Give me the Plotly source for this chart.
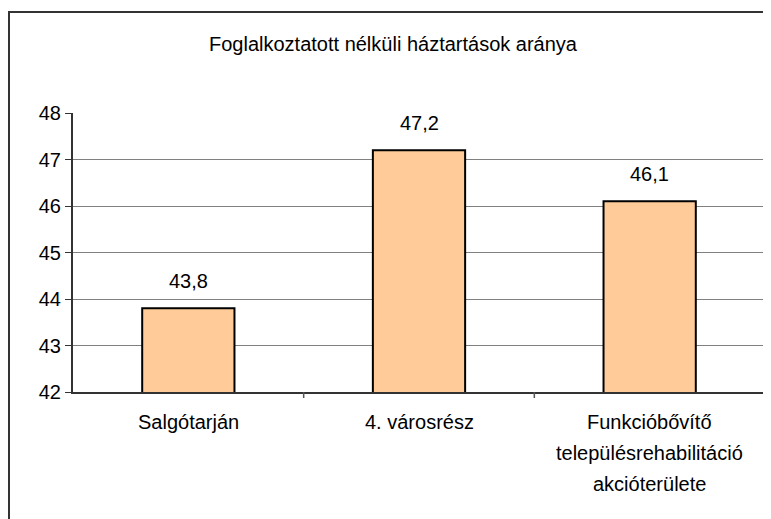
import plotly.graph_objects as go

categories = ["Salgótarján", "4. városrész", "Funkcióbővítő"]
category_lines = [
	["Salgótarján"],
	["4. városrész"],
	["Funkcióbővítő", "településrehabilitáció", "akcióterülete"],
]
values = [43.8, 47.2, 46.1]
y_ticks = [42, 43, 44, 45, 46, 47, 48]

title_text = "Foglalkoztatott nélküli háztartások aránya"
unit_text = "(%)"

font = "Liberation Sans, Arial, sans-serif"
fsize = 20

# page body has an 8px margin, so the figure is drawn 8px in from the corner
OFF = 8
W, H = 771 - OFF, 519 - OFF
# plot area in window pixels
L, R, T, B = 73, 765, 113, 392


def px_x(px):
	return (px - L) / (R - L)


def px_y(py):
	return (B - py) / (B - T)


def main():
	fig = go.Figure()
	fig.add_trace(
		go.Bar(
			x=categories,
			y=values,
			marker=dict(color="#FFCC99", line=dict(color="#000000", width=2)),
			width=0.4,
			hoverinfo="skip",
		)
	)

	annotations = []
	# value labels above bars
	for cat, v in zip(categories, values):
		annotations.append(dict(
			x=cat, y=v, xref="x", yref="y",
			text=f"{v:.1f}".replace(".", ","),
			showarrow=False, yanchor="bottom", yshift=14,
			font=dict(family=font, size=fsize, color="#000000"),
		))

	# category labels, one annotation per line
	for cat, lines in zip(categories, category_lines):
		for i, line in enumerate(lines):
			annotations.append(dict(
				x=cat, y=px_y(422 + i * 31), xref="x", yref="paper",
				text=line, showarrow=False, yanchor="middle",
				font=dict(family=font, size=fsize, color="#000000"),
			))

	annotations.append(dict(
		x=px_x(393), y=px_y(44), xref="paper", yref="paper",
		text=title_text, showarrow=False, yanchor="middle",
		font=dict(family=font, size=fsize, color="#000000"),
	))
	annotations.append(dict(
		x=px_x(362), y=px_y(9), xref="paper", yref="paper",
		text=unit_text, showarrow=False, yanchor="bottom",
		font=dict(family=font, size=fsize, color="#000000"),
	))

	shapes = [
		# outer chart frame (right and bottom run off the picture)
		dict(type="rect", xref="paper", yref="paper",
			x0=px_x(9), x1=px_x(790), y0=px_y(540), y1=px_y(12),
			line=dict(color="#333333", width=2), layer="below"),
		# plot area border on the right
		dict(type="line", xref="paper", yref="paper",
			x0=1, x1=1, y0=0, y1=1,
			line=dict(color="#888888", width=2)),
	]
	# category separators below the axis
	for k in range(1, len(categories)):
		shapes.append(dict(
			type="line", xref="x", yref="paper",
			x0=k - 0.5, x1=k - 0.5, y0=0, y1=px_y(B + 6),
			line=dict(color="#555555", width=1.5),
		))

	fig.update_layout(
		width=W, height=H,
		margin=dict(l=L - OFF, r=W + OFF - R, t=T - OFF, b=H + OFF - B),
		paper_bgcolor="white", plot_bgcolor="white",
		showlegend=False,
		annotations=annotations,
		shapes=shapes,
		font=dict(family=font, size=fsize, color="#000000"),
	)
	fig.update_xaxes(
		showticklabels=False, showgrid=False,
		showline=True, linecolor="#333333", linewidth=2,
		ticks="", range=[-0.5, 2.5],
	)
	fig.update_yaxes(
		range=[42, 48], tickvals=y_ticks,
		ticktext=[str(t) for t in y_ticks],
		showgrid=True, gridcolor="#808080", gridwidth=1,
		showline=True, linecolor="#333333", linewidth=2,
		ticks="outside", ticklen=6, tickcolor="#333333",
		tickfont=dict(family=font, size=fsize, color="#000000"),
		zeroline=False,
	)

	fig.write_html("out.html")


if __name__ == "__main__":
	main()
